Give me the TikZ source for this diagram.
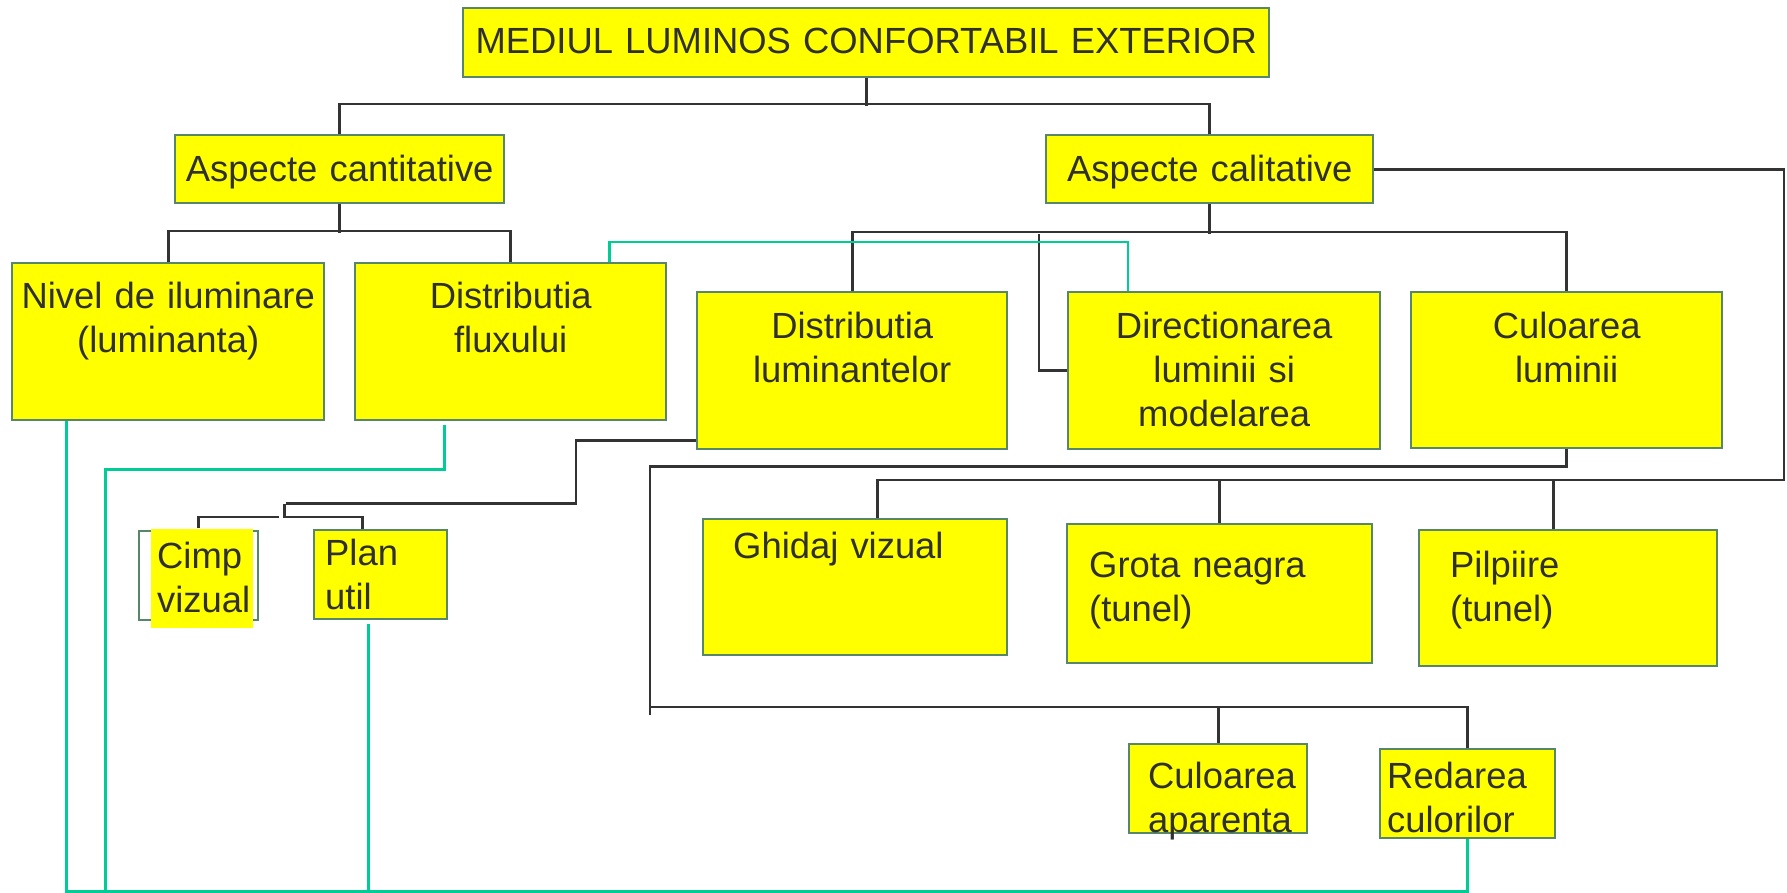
\documentclass[tikz,border=0pt]{standalone}
\usepackage{fontspec}
\setmainfont{Liberation Sans}
\usepackage{tikz}
\usetikzlibrary{calc}

\definecolor{boxfill}{RGB}{255,255,0}
\definecolor{boxline}{RGB}{88,134,104}
\definecolor{txt}{RGB}{48,48,48}
\definecolor{linkgray}{RGB}{51,51,51}
\definecolor{linkgreen}{RGB}{0,204,150}

\tikzstyle{cbox} = [rectangle, anchor=north west,
draw=boxline, line width=1.2pt,
fill=boxfill,
text=txt,
font=\fontsize{18.2}{22}\selectfont,
inner xsep=0pt, inner ysep=0pt,
align=center]
\tikzstyle{lbox} = [cbox, align=left]
\tikzstyle{link} = [draw=linkgray, line width=1.4pt]
\tikzstyle{glink} = [draw=linkgreen, line width=1.3pt]

\begin{document}
\begin{tikzpicture}[x=0.5pt, y=-0.5pt]
\useasboundingbox (0,0) rectangle (1787,893);

\node (title) [cbox, text width=403pt, text height=22.5pt, text depth=12pt] at (462,7) {MEDIUL LUMINOS CONFORTABIL EXTERIOR};

\node (cant) [cbox, text width=164.5pt, text height=23pt, text depth=11pt] at (174,134) {Aspecte cantitative};

\node (cal) [cbox, text width=163.5pt, text height=23pt, text depth=11pt] at (1045,134) {Aspecte calitative};

\node (nivel) [cbox, text width=156pt, text height=22.5pt, text depth=56pt] at (11,262) {Nivel de iluminare\\(luminanta)};

\node (flux) [cbox, text width=155.5pt, text height=22.5pt, text depth=56pt] at (354,262) {Distributia\\fluxului};

\node (lum) [cbox, text width=155pt, text height=23pt, text depth=55.5pt] at (696,291) {Distributia\\luminantelor};

\node (dir) [cbox, text width=156pt, text height=23pt, text depth=55.5pt] at (1067,291) {Directionarea\\luminii si\\modelarea};

\node (cul) [cbox, text width=155.5pt, text height=23pt, text depth=55pt] at (1410,291) {Culoarea\\luminii};

\draw [boxline, line width=1.2pt] (139,531) rectangle (258,620);
\node (cimp) [lbox, draw=none, inner xsep=3pt, text width=45pt, text height=19.5pt, text depth=30pt] at (150,528) {Cimp\\vizual};

\node (plan) [lbox, inner xsep=5.5pt, text width=55.5pt, text height=17.5pt, text depth=27pt] at (313,529) {Plan\\util};

\node (ghid) [lbox, inner xsep=15pt, text width=122pt, text height=19.5pt, text depth=48.5pt] at (702,518) {Ghidaj vizual};

\node (grota) [lbox, inner xsep=11pt, text width=130.5pt, text height=26.5pt, text depth=43pt] at (1066,523) {Grota neagra\\(tunel)};

\node (pilp) [lbox, inner xsep=15.5pt, text width=118pt, text height=23.5pt, text depth=44.5pt] at (1418,529) {Pilpiire\\(tunel)};

\node (apar) [lbox, inner xsep=9.5pt, text width=70pt, text height=22pt, text depth=22.5pt] at (1128,743) {Culoarea\\aparenta};

\node (red) [lbox, inner xsep=3.5pt, text width=80.5pt, text height=19.5pt, text depth=25pt] at (1379,748) {Redarea\\culorilor};

\coordinate (qright) at (1784,480);
\coordinate (qleft) at (650,715);

% tree
\draw [link] (title.south) -- ++(0,28);
\draw [link] (cant.north) -- ++(0,-30) -| (cal.north);

\draw [link] (cant.south) -- ++(0,29);
\draw [link] (nivel.north) -- ++(0,-31) -| (flux.north);

\draw [link] (cal.south) -- ++(0,30);
\draw [link] (lum.north) -- ++(0,-59) -| (cul.north);
\draw [link] (dir.west) -- ++(-28,0) -- ++(0,-137);

\draw [link] (cal.east) -| (qright) -| ([xshift=11pt]ghid.north);
\draw [link] (grota.north) -- ++(0,-43);
\draw [link] ([xshift=-7.5pt]pilp.north) -- ++(0,-49);

\draw [link] (cul.south) -- ++(0,17) -| (qleft);
\draw [link] (qleft) ++(0,-8) -| (red.north);
\draw [link] (apar.north) -- ++(0,-36);

\draw [link] ([yshift=5pt]lum.south west) -- ++(-120,0) -- ++(0,63) -- ++(-290,0);
\draw [link] ([xshift=-9.25pt]plan.north) -- ++(0,-12) -- ++(-78,0) -- ++(0,-13);
\draw [link] ([xshift=-2pt]cimp.north) -- ++(0,-11) -- ++(81,0);

% green links
\draw [glink] ([xshift=-29pt]flux.north east) -- ++(0,-20) -| ([xshift=30.5pt]dir.north west);
\draw [glink] ([xshift=27.75pt]nivel.south west) -- ++(0,470) -| (red.south);
\draw [glink] ([xshift=-33.25pt,yshift=-2pt]flux.south) -- ++(0,44) -- ++(-339,0) -- ++(0,422);
\draw [glink] ([xshift=-6.25pt,yshift=-2pt]plan.south) -- ++(0,267);

\end{tikzpicture}
\end{document}
